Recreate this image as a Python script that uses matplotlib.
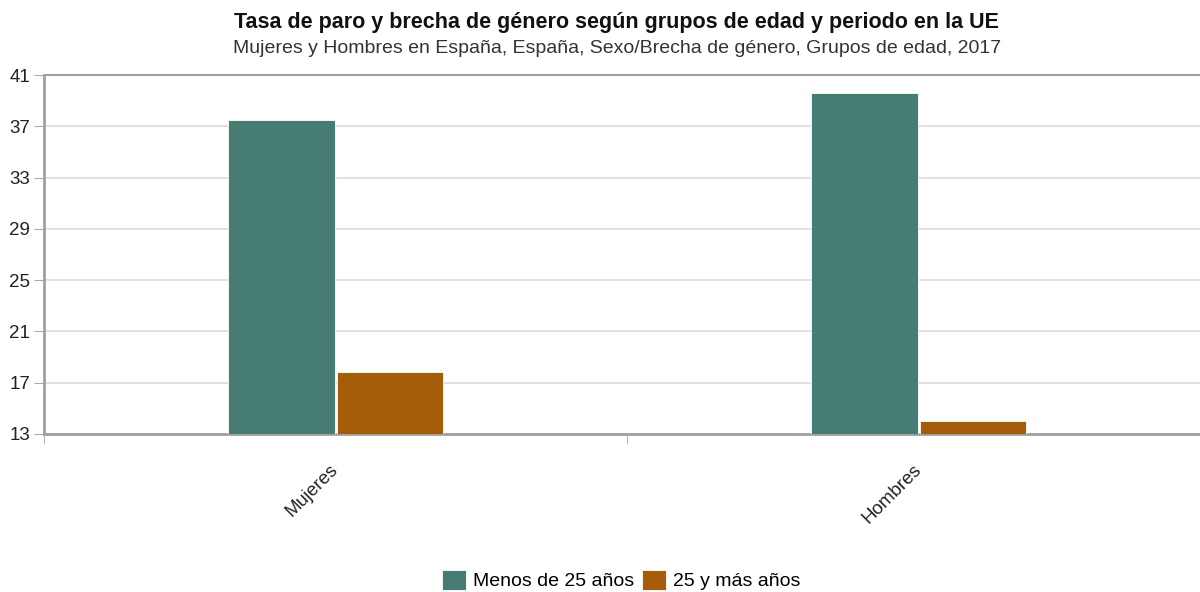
import numpy as np
import matplotlib.pyplot as plt

plt.rcParams['font.family'] = ['Liberation Sans', 'DejaVu Sans']

categorias = ['Mujeres', 'Hombres']
series = ['Menos de 25 años', '25 y más años']
menos_25 = [37.5, 39.6]
mas_25 = [17.8, 14.0]
colores = ['#477c73', '#a65d0a']

fig = plt.figure(figsize=(12, 5.92), dpi=100)
ax = fig.add_axes([0.0367, 0.2669, 0.9717, 0.6064])

x = np.arange(len(categorias))
w = 0.182
ax.bar(x - w / 2 - 0.0017, menos_25, w, color=colores[0], label=series[0],
       edgecolor='white', linewidth=0.6, zorder=3)
ax.bar(x + w / 2 + 0.0017, mas_25, w, color=colores[1], label=series[1],
       edgecolor='white', linewidth=0.6, zorder=3)

ax.set_ylim(13, 41)
ax.set_xlim(-0.5, 1.5)
ax.set_yticks(np.arange(13, 42, 4))
ax.yaxis.grid(True, color='#dcdcdc', linewidth=1.2, zorder=0)
ax.tick_params(axis='y', length=7, color='#aaaaaa', labelsize=13.5, labelcolor='#222222', pad=3)

ax.set_xticks(x)
ax.set_xticklabels(categorias, rotation=45, ha='right', va='center', rotation_mode='anchor',
                   fontsize=13.5, color='#222222')
ax.tick_params(axis='x', which='major', length=0, pad=24)
ax.set_xticks([-0.5, 0.5, 1.5], minor=True)
ax.tick_params(axis='x', which='minor', length=7, color='#aaaaaa')

for s in ['left', 'bottom']:
    ax.spines[s].set_color('#a0a0a0')
    ax.spines[s].set_linewidth(2)
ax.spines['top'].set_color('#a0a0a0')
ax.spines['top'].set_linewidth(1.5)
ax.spines['right'].set_visible(False)

fig.text(0.514, 0.962, 'Tasa de paro y brecha de género según grupos de edad y periodo en la UE',
         ha='center', va='center', fontsize=15.5, fontweight='bold', color='#111111')
fig.text(0.514, 0.918, 'Mujeres y Hombres en España, España, Sexo/Brecha de género, Grupos de edad, 2017',
         ha='center', va='center', fontsize=14, color='#333333')

fig.legend(loc='center', bbox_to_anchor=(0.518, 0.02), ncol=2, frameon=False, fontsize=14,
           handlelength=1.2, handleheight=1.2, handletextpad=0.4, columnspacing=0.4)

fig.savefig('out.png', dpi=100)
